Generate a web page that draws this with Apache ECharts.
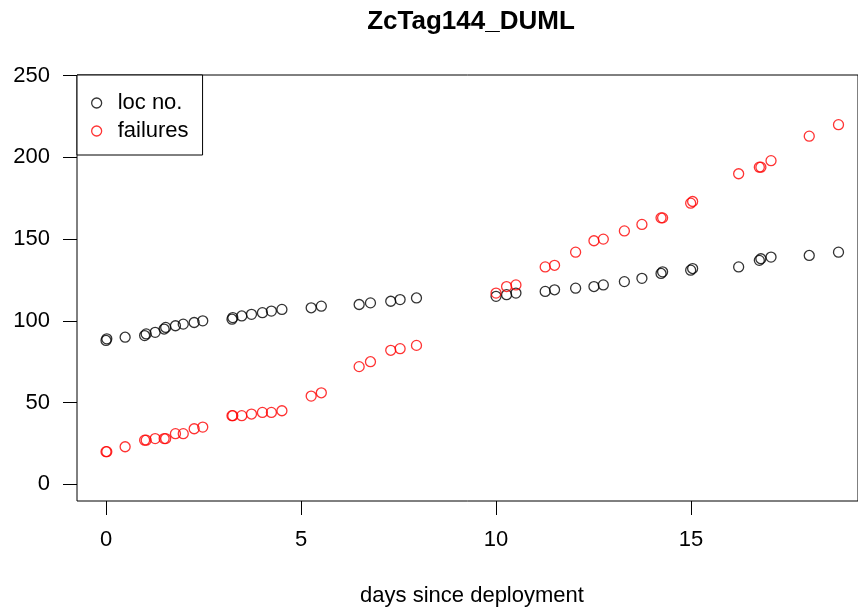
<!DOCTYPE html>
<html>
<head>
<meta charset="utf-8">
<script src="https://cdn.jsdelivr.net/npm/echarts@6/dist/echarts.min.js"></script>
<style>html,body{margin:0;padding:0;background:#fff}#c{width:858px;height:611px}</style>
</head>
<body>
<div id="c"></div>
<script>
const chartTitle = 'ZcTag144_DUML';
const xAxisTitle = 'days since deployment';
const seriesNames = ['loc no.', 'failures'];
const days = [0.00, 0.02, 0.49, 0.99, 1.03, 1.26, 1.49, 1.53, 1.78, 1.98, 2.26, 2.48,
  3.23, 3.25, 3.48, 3.73, 4.01, 4.24, 4.51, 5.26, 5.52, 6.49, 6.78, 7.30, 7.54, 7.96,
  10.00, 10.27, 10.51, 11.26, 11.50, 12.04, 12.51, 12.75, 13.29, 13.74, 14.23, 14.27,
  14.99, 15.04, 16.22, 16.75, 16.79, 17.05, 18.03, 18.78];
const locNo = [88, 89, 90, 91, 92, 93, 95, 96, 97, 98, 99, 100,
  101, 102, 103, 104, 105, 106, 107, 108, 109, 110, 111, 112, 113, 114,
  115, 116, 117, 118, 119, 120, 121, 122, 124, 126, 129, 130,
  131, 132, 133, 137, 138, 139, 140, 142];
const failures = [20, 20, 23, 27, 27, 28, 28, 28, 31, 31, 34, 35,
  42, 42, 42, 43, 44, 44, 45, 54, 56, 72, 75, 82, 83, 85,
  117, 121, 122, 133, 134, 142, 149, 150, 155, 159, 163, 163,
  172, 173, 190, 194, 194, 198, 213, 220];
const xTicks = [0, 5, 10, 15];
const yTicks = [0, 50, 100, 150, 200, 250];

const FONT = '"Liberation Sans", Arial, sans-serif';
const chart = echarts.init(document.getElementById('c'), null, {renderer: 'canvas'});
const mk = (ys) => days.map((d, i) => [d, ys[i]]);
const sym = (c) => ({color: 'transparent', borderColor: c, borderWidth: 1.3});
chart.setOption({
  animation: false,
  backgroundColor: '#fff',
  graphic: [
    {type: 'text', x: 471, y: 22, style: {text: chartTitle, font: 'bold 26px ' + FONT, fill: '#000', textAlign: 'center', textVerticalAlign: 'middle'}},
    {type: 'text', x: 472, y: 596, style: {text: xAxisTitle, font: '22px ' + FONT, fill: '#000', textAlign: 'center', textVerticalAlign: 'middle'}}
  ],
  grid: {left: 77, top: 75, right: 0, bottom: 110, show: true, borderColor: '#000', borderWidth: 1, backgroundColor: 'transparent'},
  legend: {
    left: 77, top: 75, orient: 'vertical',
    padding: [17, 14, 13, 14],
    itemWidth: 32, itemHeight: 10, itemGap: 6,
    borderColor: '#000', borderWidth: 1, backgroundColor: '#fff',
    textStyle: {fontFamily: FONT, fontSize: 22, color: '#000', lineHeight: 22},
    data: [
      {name: seriesNames[0], icon: 'circle', itemStyle: sym('#000')},
      {name: seriesNames[1], icon: 'circle', itemStyle: sym('#ff0000')}
    ]
  },
  xAxis: {
    type: 'value', min: -0.744, max: 19.28,
    axisLine: {show: false, onZero: false}, splitLine: {show: false},
    axisTick: {show: true, length: 14, inside: false, customValues: xTicks, lineStyle: {color: '#000', width: 1}},
    axisLabel: {show: true, customValues: xTicks, margin: 28, fontFamily: FONT, fontSize: 22, color: '#000'}
  },
  yAxis: {
    type: 'value', min: -10.2, max: 250.4,
    axisLine: {show: false, onZero: false}, splitLine: {show: false},
    axisTick: {show: true, length: 14, inside: false, customValues: yTicks, lineStyle: {color: '#000', width: 1}},
    axisLabel: {show: true, customValues: yTicks, margin: 27, fontFamily: FONT, fontSize: 22, color: '#000'}
  },
  series: [
    {name: seriesNames[0], type: 'scatter', data: mk(locNo), symbol: 'circle', symbolSize: 10, itemStyle: sym('#000'), z: 2},
    {name: seriesNames[1], type: 'scatter', data: mk(failures), symbol: 'circle', symbolSize: 10, itemStyle: sym('#ff0000'), z: 3}
  ]
});
</script>
</body>
</html>
